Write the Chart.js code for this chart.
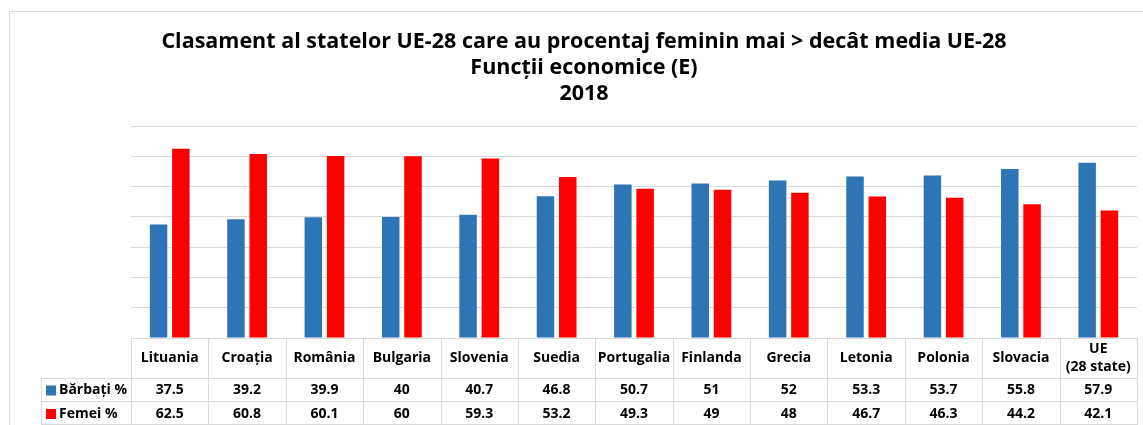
<!DOCTYPE html>
<html>
<head>
<meta charset="utf-8">
<script src="https://cdn.jsdelivr.net/npm/chart.js@4.4.0/dist/chart.umd.min.js"></script>
<style>
	html, body { margin: 0; padding: 0; background: #fff; }
	#wrap { width: 1143px; height: 425px; }
</style>
</head>
<body>
<div id="wrap"><canvas id="chart" width="1143" height="425"></canvas></div>
<script>
// categories and values
var categories = ["Lituania", "Croația", "România", "Bulgaria", "Slovenia", "Suedia", "Portugalia",
	"Finlanda", "Grecia", "Letonia", "Polonia", "Slovacia", ["UE", "(28 state)"]];
var barbati = [37.5, 39.2, 39.9, 40, 40.7, 46.8, 50.7, 51, 52, 53.3, 53.7, 55.8, 57.9];
var femei = [62.5, 60.8, 60.1, 60, 59.3, 53.2, 49.3, 49, 48, 46.7, 46.3, 44.2, 42.1];
var seriesNames = ["Bărbați %", "Femei %"];
var titleLines = ["Clasament al statelor UE-28 care au procentaj feminin mai > decât media UE-28",
	"Funcții economice (E)", "2018"];

var BLUE = "#2e75b6";
var RED = "#ff0000";
var GRID = "#d9d9d9";
var FONT = "'Open Sans', 'Liberation Sans', sans-serif";

// frame round the whole picture
var framePlugin = {
	id: 'frame',
	beforeDraw: function (chart) {
		var ctx = chart.ctx;
		ctx.save();
		ctx.strokeStyle = "#d9d9d9";
		ctx.lineWidth = 1;
		ctx.strokeRect(9.5, 11.5, chart.width + 20, chart.height + 20);
		ctx.restore();
	}
};

// data table under the plot, drawn from the x scale
var tablePlugin = {
	id: 'datatable',
	afterDraw: function (chart) {
		var ctx = chart.ctx;
		var x = chart.scales.x;
		var area = chart.chartArea;
		var n = categories.length;
		var w = (area.right - area.left) / n;
		var top = area.bottom;
		var r1 = top + 40, r2 = top + 63, r3 = chart.height;
		var legLeft = 41;

		ctx.save();
		ctx.strokeStyle = GRID;
		ctx.lineWidth = 1;
		ctx.beginPath();
		// horizontal lines
		ctx.moveTo(area.left, top + 0.5); ctx.lineTo(area.right, top + 0.5);
		[r1, r2].forEach(function (y) {
			ctx.moveTo(legLeft, Math.round(y) + 0.5); ctx.lineTo(area.right, Math.round(y) + 0.5);
		});
		ctx.moveTo(legLeft, r3 - 0.5); ctx.lineTo(area.right, r3 - 0.5);
		// vertical lines
		for (var i = 0; i <= n; i++) {
			var vx = Math.round(area.left + i * w) + 0.5;
			ctx.moveTo(vx, top); ctx.lineTo(vx, r3);
		}
		ctx.moveTo(legLeft + 0.5, r1); ctx.lineTo(legLeft + 0.5, r3);
		ctx.stroke();

		ctx.fillStyle = "#000";
		ctx.textAlign = "center";
		ctx.textBaseline = "middle";
		ctx.font = "bold 14px " + FONT;
		for (var j = 0; j < n; j++) {
			var cx = x.getPixelForValue(j);
			var lab = categories[j];
			if (Array.isArray(lab)) {
				ctx.fillText(lab[0], cx, top + 11);
				ctx.fillText(lab[1], cx, top + 29);
			} else {
				ctx.fillText(lab, cx, top + 20);
			}
			ctx.fillText(String(barbati[j]), cx, (r1 + r2) / 2 + 1);
			ctx.fillText(String(femei[j]), cx, (r2 + r3) / 2 + 1);
		}

		// legend keys
		ctx.textAlign = "left";
		ctx.fillStyle = BLUE;
		ctx.fillRect(46, (r1 + r2) / 2 - 4, 10, 10);
		ctx.fillStyle = RED;
		ctx.fillRect(46, (r2 + r3) / 2 - 4, 10, 10);
		ctx.fillStyle = "#000";
		ctx.fillText(seriesNames[0], 59, (r1 + r2) / 2 + 1);
		ctx.fillText(seriesNames[1], 59, (r2 + r3) / 2 + 1);
		ctx.restore();
	}
};

var ctx = document.getElementById('chart').getContext('2d');
new Chart(ctx, {
	type: 'bar',
	data: {
		labels: categories,
		datasets: [{
			label: seriesNames[0],
			data: barbati,
			backgroundColor: BLUE,
			borderWidth: 0
		}, {
			label: seriesNames[1],
			data: femei,
			backgroundColor: RED,
			borderWidth: 0
		}]
	},
	options: {
		responsive: false,
		animation: false,
		devicePixelRatio: 1,
		categoryPercentage: 0.576,
		barPercentage: 0.785,
		layout: {
			padding: { left: 31, right: 6, top: 0, bottom: 87 }
		},
		plugins: {
			legend: { display: false },
			tooltip: { enabled: false },
			title: {
				display: true,
				text: titleLines,
				color: "#000",
				font: { family: FONT, size: 21.5, weight: 'bold', lineHeight: 1.21 },
				padding: { top: 29, bottom: 19 }
			}
		},
		scales: {
			x: {
				display: false
			},
			y: {
				min: 0,
				max: 70,
				ticks: { display: false, stepSize: 10 },
				grid: { color: GRID, drawTicks: false, lineWidth: 1 },
				border: { display: false },
				afterFit: function (s) { s.width = 100; }
			}
		}
	},
	plugins: [framePlugin, tablePlugin]
});
</script>
</body>
</html>
